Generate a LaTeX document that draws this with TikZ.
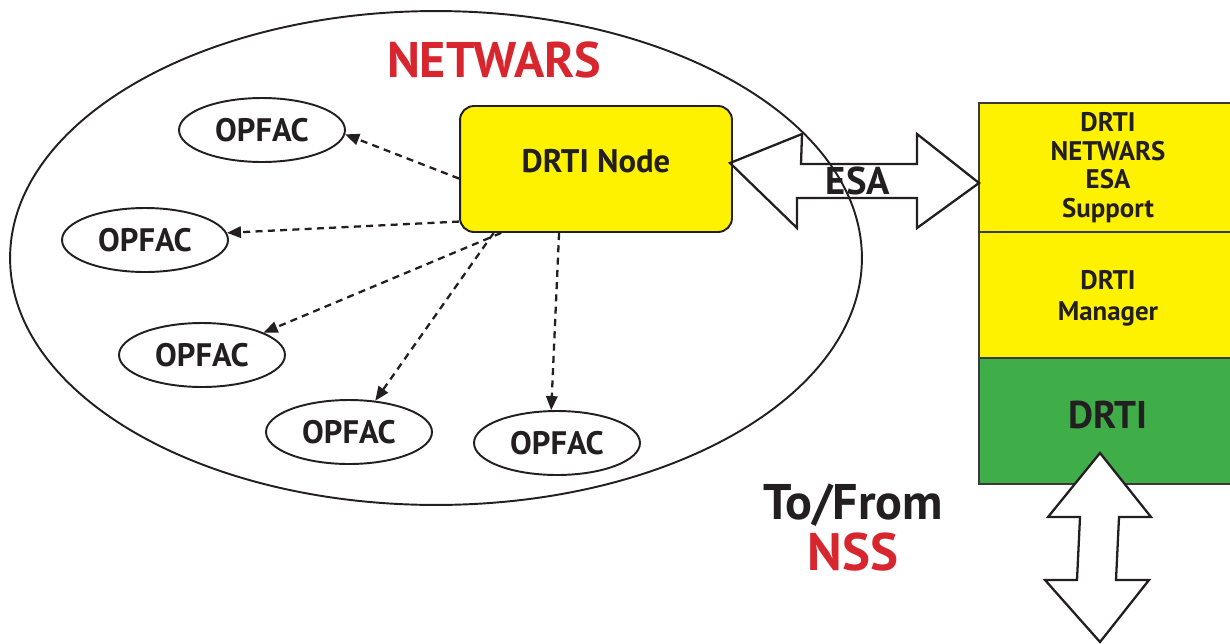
\documentclass[tikz,border=0pt]{standalone}
\usepackage{fontspec}
\setmainfont{PT Sans}
\usetikzlibrary{arrows.meta,shapes.geometric}

\definecolor{netred}{HTML}{D7262E}
\definecolor{nodeyellow}{HTML}{FFF200}
\definecolor{drtigreen}{HTML}{3FAE49}
\definecolor{ink}{HTML}{231F20}
\definecolor{edgegray}{HTML}{3A3A3A}

\tikzset{
 opfac/.style={draw=ink, line width=1.1pt, ellipse, minimum width=3.32cm,
  minimum height=1.28cm, inner sep=0pt, font=\fontsize{18.5}{20}\selectfont\bfseries, text=ink},
 link/.style={draw=ink, line width=1.3pt, dash pattern=on 4pt off 3pt,
  -{Triangle[length=8pt,width=6.5pt]}},
 layer/.style={draw=edgegray, line width=1.1pt, minimum width=5.16cm, align=center,
  text=ink, font=\fontsize{15.3}{16.2}\selectfont\bfseries},
 bigarrow/.style={draw=ink, line width=1.3pt, line join=miter}
}

\begin{document}
\begin{tikzpicture}[x=0.02cm, y=-0.02cm]
 \useasboundingbox (0,0) rectangle (1230,643);
 % NETWARS simulation
 \draw[ink, line width=1.1pt] (436,258) ellipse [x radius=8.52cm, y radius=4.94cm];
 \node[text=netred, font=\fontsize{28.5}{32}\selectfont\bfseries] (netwars) at (494,60) {NETWARS};
 \node[draw=ink, line width=1.1pt, fill=nodeyellow, rounded corners=0.28cm,
  minimum width=5.44cm, minimum height=2.52cm, text=ink, text depth=0.32cm,
  font=\fontsize{18.6}{22}\selectfont\bfseries] (drti) at (596,169) {DRTI Node};
 % OPFACs and their links
 \foreach \n/\x/\y/\s/\t in {1/262/130/184/-3, 2/145/240/201/5, 3/202/355/214/20,
   4/349/432/212.5/50, 5/557/443/240/100} {
  \node[opfac] (o\n) at (\x,\y) {OPFAC};
  \draw[link] (drti.\s) -- (o\n.\t);
 }
 % DRTI stack
 \node[layer, fill=nodeyellow, minimum height=2.58cm] (esa) at (1108,167.5)
  {DRTI\\NETWARS\\ESA\\Support};
 \node[layer, fill=nodeyellow, minimum height=2.52cm,
  font=\fontsize{15.3}{17.6}\selectfont\bfseries, text depth=0cm] (mgr) at (1108,295)
  {DRTI\\Manager};
 \node[layer, fill=drtigreen, minimum height=2.52cm, text depth=0.24cm,
  font=\fontsize{22}{26}\selectfont\bfseries] (core) at (1108,421) {DRTI};
 % ESA interface
 \draw[bigarrow] (730,163) -- (802,134) -- (801,164) -- (917,164) -- (917,134)
  -- (979,183) -- (917,228) -- (917,198) -- (797,198) -- (797,228) -- cycle;
 \node[text=ink, font=\fontsize{22}{26}\selectfont\bfseries] (esalabel) at (858,181) {ESA};
 % To/From NSS
 \draw[bigarrow, fill=white] (1100,453) -- (1151,517) -- (1119,517) -- (1116,580)
  -- (1149,580) -- (1100,642) -- (1045,580) -- (1077,580) -- (1080,517)
  -- (1048,517) -- cycle;
 \node[text=ink, font=\fontsize{28.5}{30}\selectfont\bfseries] (tofrom) at (853,505) {To/From};
 \node[text=netred, font=\fontsize{30}{32}\selectfont\bfseries] (nss) at (853,552) {NSS};
\end{tikzpicture}
\end{document}
